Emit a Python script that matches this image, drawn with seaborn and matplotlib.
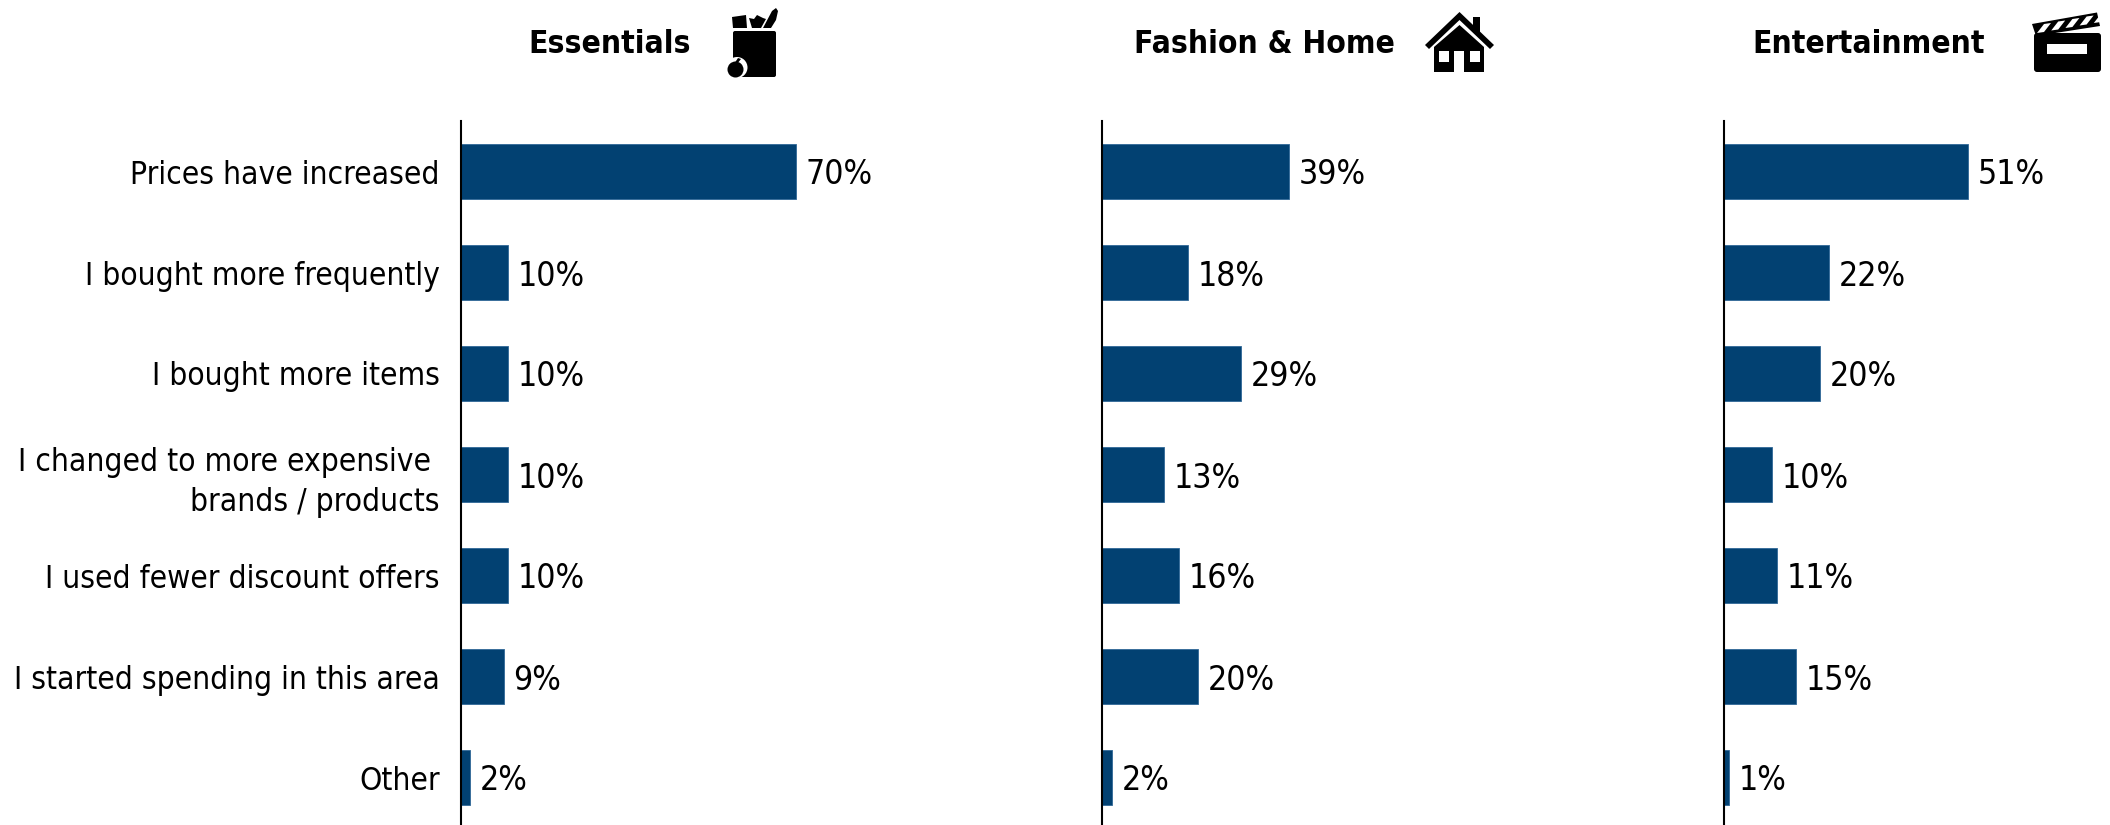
import matplotlib
matplotlib.use("Agg")
import matplotlib.pyplot as plt
from matplotlib.patches import Polygon, Rectangle, Circle, FancyBboxPatch
import seaborn as sns

sns.set_theme(style="white")
plt.rcParams["font.family"] = ["DejaVu Sans"]

categories = [
    "Prices have increased",
    "I bought more frequently",
    "I bought more items",
    "I changed to more expensive \nbrands / products",
    "I used fewer discount offers",
    "I started spending in this area",
    "Other",
]
panel_titles = ["Essentials", "Fashion & Home", "Entertainment"]
essentials = [70, 10, 10, 10, 10, 9, 2]
fashion_home = [39, 18, 29, 13, 16, 20, 2]
entertainment = [51, 22, 20, 10, 11, 15, 1]

W, H = 2110, 825
BAR = "#024172"
EDGE = "#2f6797"
FONT = dict(family="DejaVu Sans", stretch="condensed")

fig = plt.figure(figsize=(W / 100, H / 100), dpi=100, facecolor="white")


def panel(left, width, values, with_labels):
    """One horizontal bar panel; left and width are in pixels."""
    top, height = 121, 707
    ax = fig.add_axes([left / W, 1 - (top + height) / H, width / W, height / H])
    ax.patch.set_alpha(0)
    sns.barplot(y=categories, x=values, ax=ax, color=BAR, saturation=1, width=0.552,
                edgecolor=EDGE, linewidth=0.6, orient="h")
    ax.set_xlim(0, width / 4.79)
    ax.set_ylim(6.5, -0.5)
    for t in ax.bar_label(ax.containers[0], fmt="%g%%", padding=7, fontsize=24.2, color="black", **FONT):
        t.set_verticalalignment("center_baseline")
    sns.despine(ax=ax, top=True, right=True, bottom=True)
    ax.spines["left"].set_color("black")
    ax.spines["left"].set_linewidth(1.5)
    ax.set_xticks([])
    ax.set_xlabel("")
    ax.set_ylabel("")
    ax.tick_params(axis="y", length=0, pad=15)
    if with_labels:
        for lab in ax.get_yticklabels():
            lab.set_fontsize(22.7)
            lab.set_color("black")
            lab.set_fontfamily("DejaVu Sans")
            lab.set_fontstretch("condensed")
            lab.set_linespacing(1.36)
    else:
        ax.set_yticklabels([])
    return ax


panel(460.5, 400, essentials, True)
panel(1102, 400, fashion_home, False)
panel(1724, 380, entertainment, False)

for title, cx in zip(panel_titles, [609.5, 1264, 1869]):
    fig.text(cx / W, 1 - 44.5 / H, title, ha="center", va="center", fontsize=22.8,
             fontweight="bold", color="black", **FONT)

# Overlay in pixel coordinates for the three header pictograms
icons = fig.add_axes([0, 0, 1, 1], zorder=5)
icons.set_xlim(0, W)
icons.set_ylim(H, 0)
icons.axis("off")
icons.patch.set_alpha(0)


def poly(points, color="black", **kw):
    icons.add_patch(Polygon(points, closed=True, facecolor=color, edgecolor="none", **kw))


def rect(x0, y0, x1, y1, color="black"):
    icons.add_patch(Rectangle((x0, y0), x1 - x0, y1 - y0, facecolor=color, edgecolor="none"))


# Grocery bag
icons.add_patch(FancyBboxPatch((733, 31), 43, 46, boxstyle="round,pad=0,rounding_size=2",
                               facecolor="black", edgecolor="none"))
poly([(732, 17), (746, 15), (747, 28), (733, 28)])
poly([(749, 18), (754, 19), (757, 15), (763, 18), (766, 19), (761, 28), (752, 28)])
poly([(763, 28), (772, 11), (776, 8), (778, 11), (776, 20), (771, 28)])
icons.add_patch(Circle((737, 67.5), 10.5, facecolor="white", edgecolor="none"))
icons.add_patch(Rectangle((727, 67), 10, 11, facecolor="white", edgecolor="none"))
icons.add_patch(Circle((735.5, 69.5), 8, facecolor="black", edgecolor="none"))
poly([(734, 64), (738, 58), (741, 59), (737, 64)])

# House
rect(1473, 17, 1480, 32)
poly([(1459.5, 12), (1494, 45), (1490, 49), (1459.5, 20), (1429, 49), (1425, 45)])
poly([(1459.5, 25), (1484, 47), (1484, 72), (1434, 72), (1434, 47)])
rect(1439, 51, 1449, 62, "white")
rect(1470, 51, 1480, 62, "white")
rect(1454, 51, 1464, 72, "white")

# Clapperboard
icons.add_patch(FancyBboxPatch((2034, 33), 67, 39, boxstyle="round,pad=0,rounding_size=3",
                               facecolor="black", edgecolor="none"))
rect(2047, 44, 2087, 54, "white")
poly([(2032, 24), (2097, 12.5), (2100, 26), (2036, 36)])
for k in range(5):
    x = 2037 + 14.2 * k
    y = 33 - 2.5 * k
    poly([(x, y), (x + 7, y - 1), (x + 14, y - 10), (x + 7, y - 9)], "white")

fig.savefig("out.png", dpi=100, facecolor="white")
